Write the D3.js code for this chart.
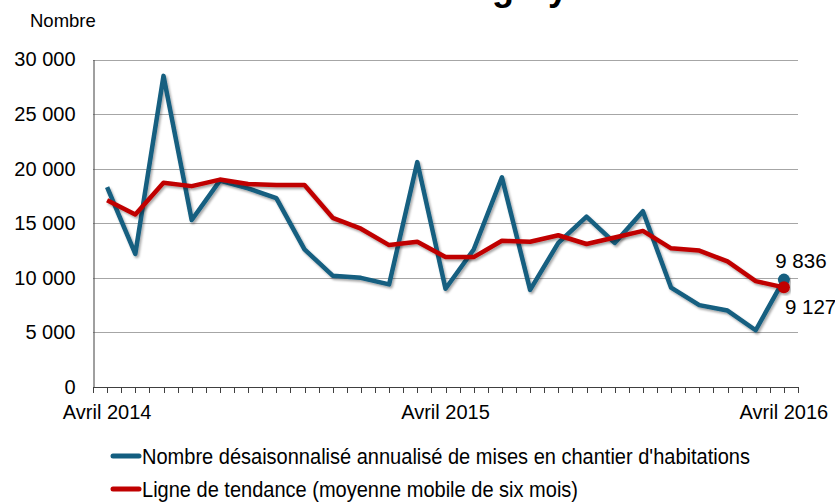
<!DOCTYPE html>
<html>
<head>
<meta charset="utf-8">
<script src="https://cdn.jsdelivr.net/npm/d3@7"></script>
<style>
  body { margin: 0; background: #fff; }
  svg { display: block; font-family: "Liberation Sans", Arial, sans-serif; }
</style>
</head>
<body>
<div id="chart"></div>
<script>
// monthly categories, April 2014 -> April 2016
const months = [
  "2014-04", "2014-05", "2014-06", "2014-07", "2014-08", "2014-09", "2014-10",
  "2014-11", "2014-12", "2015-01", "2015-02", "2015-03", "2015-04", "2015-05",
  "2015-06", "2015-07", "2015-08", "2015-09", "2015-10", "2015-11", "2015-12",
  "2016-01", "2016-02", "2016-03", "2016-04",
];
const monthLabels = { "2014-04": "Avril 2014", "2015-04": "Avril 2015", "2016-04": "Avril 2016" };

const starts = [
  18300, 12200, 28500, 15300, 18900, 18200, 17300, 12600, 10200, 10000, 9400,
  20600, 9000, 12600, 19200, 8900, 13200, 15600, 13200, 16100, 9100, 7500,
  7000, 5200, 9836,
];
const trend = [
  17100, 15800, 18700, 18400, 19000, 18600, 18500, 18500, 15500, 14500, 13000,
  13300, 11900, 11900, 13400, 13300, 13900, 13100, 13700, 14300, 12700, 12500,
  11500, 9700, 9127,
];
const yTicks = [0, 5000, 10000, 15000, 20000, 25000, 30000];
const legendLabels = [
  "Nombre désaisonnalisé annualisé de mises en chantier d'habitations",
  "Ligne de tendance (moyenne mobile de six mois)",
];
const legendWidths = [608, 436]; // the legend font is squeezed in the original
const BLUE = "#135e80", RED = "#c00000";

const W = 835, H = 502;
const plot = { left: 93, right: 798, top: 59.5, bottom: 387 };

const svg = d3.select("#chart").append("svg").attr("width", W).attr("height", H);

// soft shadow under the lines
const f = svg.append("defs").append("filter").attr("id", "shadow")
  .attr("x", "-5%").attr("y", "-5%").attr("width", "110%").attr("height", "120%");
f.append("feDropShadow").attr("dx", 1.5).attr("dy", 2).attr("stdDeviation", 1.2)
  .attr("flood-color", "#000").attr("flood-opacity", 0.35);

// title, clipped by the top of the picture
svg.append("text").attr("x", 292).attr("y", -0.5)
  .style("font-size", "36px").style("font-weight", "bold").text("RMR de Calgary");

svg.append("text").attr("x", 30).attr("y", 27).style("font-size", "18.5px").text("Nombre");

const x = d3.scalePoint().domain(months).range([plot.left, plot.right]).padding(0.5);
const y = d3.scaleLinear().domain([0, 30000]).range([plot.bottom, plot.top]);
const fmt = (v) => d3.format(",")(v).replace(/,/g, " ");

// gridlines
svg.append("g").selectAll("line").data(yTicks.filter((d) => d > 0)).join("line")
  .attr("x1", plot.left).attr("x2", plot.right)
  .attr("y1", (d) => Math.round(y(d)) + 0.5).attr("y2", (d) => Math.round(y(d)) + 0.5)
  .attr("stroke", "#a6a6a6").attr("stroke-width", 1);

// y axis
const yAxis = svg.append("g").attr("transform", `translate(${plot.left + 0.5},0)`)
  .call(d3.axisLeft(y).tickValues(yTicks).tickSize(0).tickPadding(18).tickFormat(fmt));
yAxis.select(".domain").attr("stroke", "#404040");
yAxis.selectAll("text").style("font-size", "20px").attr("fill", "#000")
  .attr("font-family", "Liberation Sans, Arial, sans-serif");

// x axis: ticks every half month
const step = x.step();
const tickPos = d3.range(months.length * 2 + 1).map((k) => plot.left + k * step / 2);
const xg = svg.append("g");
xg.append("line").attr("x1", plot.left).attr("x2", plot.right)
  .attr("y1", plot.bottom + 0.5).attr("y2", plot.bottom + 0.5).attr("stroke", "#404040");
xg.selectAll("line.tk").data(tickPos).join("line").attr("class", "tk")
  .attr("x1", (d) => Math.round(d) + 0.5).attr("x2", (d) => Math.round(d) + 0.5)
  .attr("y1", plot.bottom).attr("y2", plot.bottom + 6).attr("stroke", "#404040");
xg.selectAll("text").data(months.filter((m) => monthLabels[m])).join("text")
  .attr("x", (d) => x(d)).attr("y", plot.bottom + 32)
  .attr("text-anchor", "middle").style("font-size", "20px")
  .text((d) => monthLabels[d]);

// series
const line = (vals) => d3.line().x((d, i) => x(months[i])).y((d) => y(d))(vals);
svg.append("path").attr("d", line(starts)).attr("fill", "none").attr("stroke", BLUE)
  .attr("stroke-width", 4.5).attr("stroke-linejoin", "round").attr("filter", "url(#shadow)");
svg.append("path").attr("d", line(trend)).attr("fill", "none").attr("stroke", RED)
  .attr("stroke-width", 4.5).attr("stroke-linejoin", "round").attr("filter", "url(#shadow)");

// end markers and labels
const last = months.length - 1;
svg.append("circle").attr("cx", x(months[last])).attr("cy", y(starts[last])).attr("r", 6)
  .attr("fill", BLUE).attr("filter", "url(#shadow)");
svg.append("circle").attr("cx", x(months[last])).attr("cy", y(trend[last])).attr("r", 6)
  .attr("fill", RED).attr("filter", "url(#shadow)");
svg.append("text").attr("x", x(months[last]) + 17).attr("y", y(starts[last]) - 12)
  .attr("text-anchor", "middle").style("font-size", "20.5px").text(fmt(starts[last]));
svg.append("text").attr("x", x(months[last]) + 1).attr("y", y(trend[last]) + 27)
  .style("font-size", "20.5px").text(fmt(trend[last]));

// legend
const lg = svg.append("g").selectAll("g").data(legendLabels).join("g")
  .attr("transform", (d, i) => `translate(113,${456 + i * 33})`);
lg.append("line").attr("x1", 0).attr("x2", 26).attr("stroke-width", 5)
  .attr("stroke-linecap", "round").attr("stroke", (d, i) => (i ? RED : BLUE));
lg.append("text").attr("x", 29).attr("y", 7.5).style("font-size", "22px")
  .attr("textLength", (d, i) => legendWidths[i]).attr("lengthAdjust", "spacingAndGlyphs")
  .text((d) => d);
</script>
</body>
</html>
